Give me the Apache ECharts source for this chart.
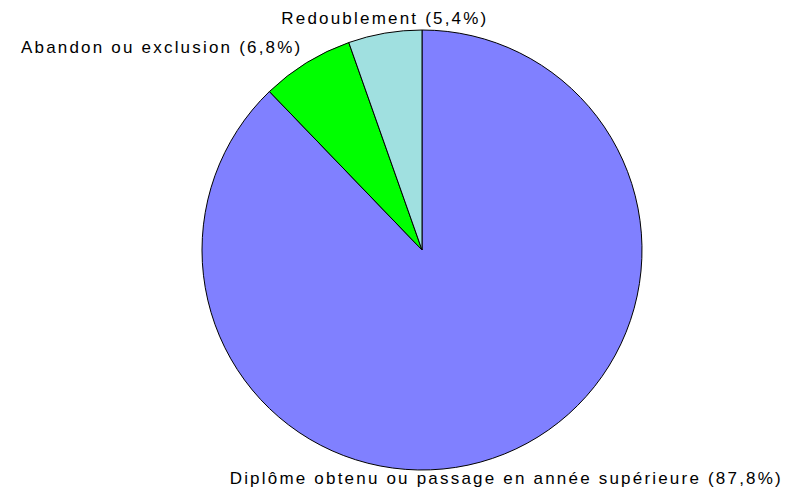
<!DOCTYPE html>
<html>
<head>
<meta charset="utf-8">
<script src="https://cdn.jsdelivr.net/npm/echarts@6/dist/echarts.min.js"></script>
<style>
  html, body { margin: 0; padding: 0; background: #fff; }
  #chart { width: 788px; height: 491px; }
  /* espacement des lettres comme dans l'image d'origine */
  #chart text { letter-spacing: 2.2px; }
</style>
</head>
<body>
<div id="chart"></div>
<script>
// données
const categories = ['Diplôme obtenu ou passage en année supérieure', 'Abandon ou exclusion', 'Redoublement']
const values = [87.8, 6.8, 5.4]
const colors = ['#8080FF', '#00FF00', '#A0E0E0']

const CX = 422, CY = 250, R = 220
const START = 90

// angle médian de chaque part (sens horaire depuis 12h)
const total = values.reduce((a, b) => a + b, 0)
const midAngles = []
let acc = START
values.forEach(v => {
  const span = v / total * 360
  midAngles.push(acc - span / 2)
  acc -= span
})

const chart = echarts.init(document.getElementById('chart'), null, { renderer: 'svg' })

chart.setOption({
  animation: false,
  series: [{
    type: 'pie',
    center: [CX, CY],
    radius: R,
    startAngle: START,
    clockwise: true,
    silent: true,
    data: categories.map((name, i) => ({
      name: name,
      value: values[i],
      itemStyle: { color: colors[i] }
    })),
    itemStyle: { borderColor: '#000', borderWidth: 1 },
    label: {
      show: true,
      position: 'outside',
      overflow: 'none',
      formatter: p => p.name + ' (' + String(p.value).replace('.', ',') + '%)',
      fontFamily: 'Liberation Sans, Arial, sans-serif',
      fontSize: 17,
      color: '#000'
    },
    labelLine: { show: false },
    emphasis: { disabled: true },
    labelLayout: function (params) {
      const i = params.dataIndex
      const a = midAngles[i] * Math.PI / 180
      const px = CX + R * Math.cos(a)
      const py = CY - R * Math.sin(a)
      if (i === 0) {
        return { x: px + 2, y: py + 16, align: 'center', verticalAlign: 'top' }
      } else if (i === 1) {
        return { x: px - 4, y: py - 7, align: 'right', verticalAlign: 'bottom' }
      }
      return { x: px, y: py - 6, align: 'center', verticalAlign: 'bottom' }
    }
  }]
})
</script>
</body>
</html>
